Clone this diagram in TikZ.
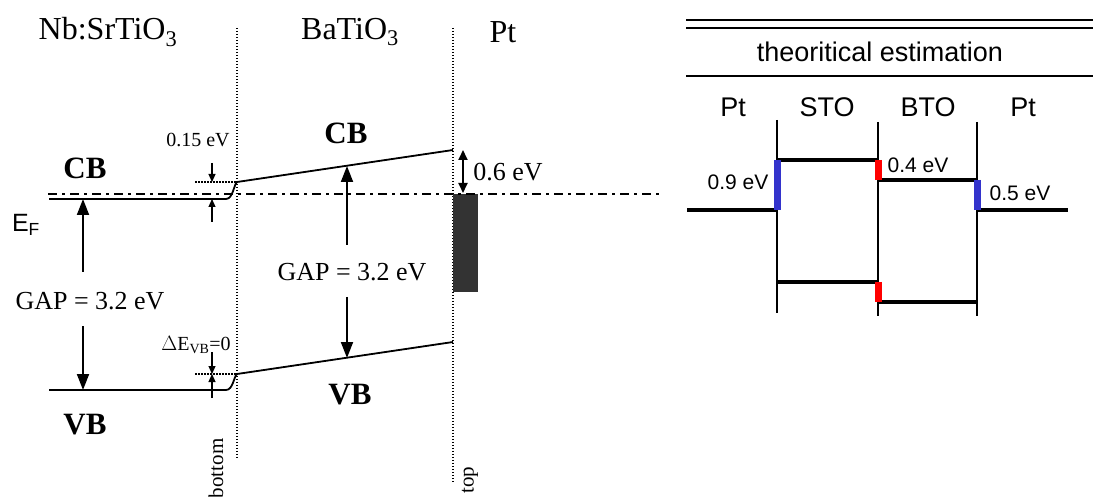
\documentclass[tikz,border=0pt]{standalone}
\usepackage{fontspec}
\setmainfont{Liberation Serif}
\setsansfont{Liberation Sans}
\usetikzlibrary{arrows.meta}
\definecolor{ptgray}{HTML}{333333}
\definecolor{bblue}{HTML}{3333CC}
\definecolor{bred}{HTML}{FF0000}
\begin{document}
\begin{tikzpicture}[x=1pt,y=-1pt,
  band/.style={line width=1.8pt},
  fermi/.style={line width=1.8pt,dash pattern=on 9pt off 5pt on 3pt off 5pt},
  iface/.style={line width=1.4pt,dash pattern=on 1.4pt off 1.6pt},
  guide/.style={line width=1.2pt,dash pattern=on 1.5pt off 1.5pt},
  bigarr/.style={line width=1.8pt,-{Triangle[length=16pt,width=12pt]}},
  smallarr/.style={line width=1.2pt,-{Triangle[length=8pt,width=7pt]}},
  dblarr/.style={line width=1.8pt,{Triangle[length=10pt,width=9pt]}-{Triangle[length=10pt,width=9pt]}},
  ttl/.style={font=\fontsize{32}{36}\selectfont},
  bandlbl/.style={font=\fontsize{31}{35}\selectfont\bfseries},
  gaplbl/.style={font=\fontsize{26}{30}\selectfont},
  smalllbl/.style={font=\fontsize{20}{23}\selectfont},
  sidelbl/.style={font=\fontsize{21}{24}\selectfont},
  vline/.style={line width=1.3pt},
  level/.style={line width=4.5pt},
  bar/.style={line width=7pt},
  sanslbl/.style={font=\sffamily\fontsize{27}{31}\selectfont},
  sanssmall/.style={font=\sffamily\fontsize{21}{24}\selectfont},
  rule/.style={line width=1.3pt}
]
\useasboundingbox (0,0) rectangle (1093,497);

% ---------------- left panel ----------------
\node[ttl] (tnb) at (108,32) {Nb:SrTiO\textsubscript{3}};
\node[ttl] (tbt) at (350,32) {BaTiO\textsubscript{3}};
\node[ttl] (tpt) at (503,32) {Pt};

\coordinate (ifbT) at (237,28);  \coordinate (ifbB) at (237,458);
\coordinate (iftT) at (453,28);  \coordinate (iftB) at (453,483);
\draw[iface] (ifbT) -- (ifbB);
\draw[iface] (iftT) -- (iftB);

% Pt metal
\fill[ptgray] (453,194) rectangle (478,292);

% Fermi level
\coordinate (efL) at (48,194); \coordinate (efR) at (662,194);
\draw[fermi] (efL) -- (efR);

% conduction band
\coordinate (cbL) at (49,199); \coordinate (cbK) at (226,199);
\coordinate (cbI) at (237,182); \coordinate (cbT) at (453,150);
\draw[band] (cbL) -- (cbK) .. controls (233,199) and (234,184) .. (cbI) -- (cbT);

% valence band
\coordinate (vbL) at (49,390); \coordinate (vbK) at (226,390);
\coordinate (vbI) at (237,374); \coordinate (vbT) at (453,342);
\draw[band] (vbL) -- (vbK) .. controls (233,390) and (234,376) .. (vbI) -- (vbT);

% offset guides
\coordinate (gc) at (195,182); \coordinate (gv) at (195,374);
\draw[guide] (gc) -- (cbI);
\draw[guide] (gv) -- (vbI);

% small offset arrows
\coordinate (a1s) at (212,163); \coordinate (a1e) at (212,182);
\coordinate (a2s) at (212,222); \coordinate (a2e) at (212,199);
\coordinate (a3s) at (212,352); \coordinate (a3e) at (212,374);
\coordinate (a4s) at (212,398); \coordinate (a4e) at (212,374);
\draw[smallarr] (a1s) -- (a1e);
\draw[smallarr] (a2s) -- (a2e);
\draw[smallarr] (a3s) -- (a3e);
\draw[smallarr] (a4s) -- (a4e);

% gap arrows
\coordinate (g1s) at (83,272); \coordinate (g1e) at (83,199);
\coordinate (g2s) at (83,326); \coordinate (g2e) at (83,390);
\coordinate (g3s) at (347,245); \coordinate (g3e) at (347,166);
\coordinate (g4s) at (347,297); \coordinate (g4e) at (347,358);
\draw[bigarr] (g1s) -- (g1e);
\draw[bigarr] (g2s) -- (g2e);
\draw[bigarr] (g3s) -- (g3e);
\draw[bigarr] (g4s) -- (g4e);

% barrier arrow
\coordinate (b1) at (463,150); \coordinate (b2) at (463,193);
\draw[dblarr] (b1) -- (b2);

% labels
\node[bandlbl] (cb1) at (85,168) {CB};
\node[bandlbl] (cb2) at (346,133) {CB};
\node[bandlbl] (vb1) at (85,425) {VB};
\node[bandlbl] (vb2) at (350,395) {VB};
\node[gaplbl] (gap1) at (90,301) {GAP = 3.2 eV};
\node[gaplbl] (gap2) at (352,272) {GAP = 3.2 eV};
\node[smalllbl] (l015) at (198,140) {0.15 eV};
\node[smalllbl] (ldvb) at (196,345) {$\Delta$E\textsubscript{VB}=0};
\node[gaplbl] (l06) at (508,172) {0.6 eV};
\node[font=\sffamily\fontsize{25}{28}\selectfont] (ef) at (26,225) {E\textsubscript{F}};
\node[sidelbl,rotate=90,anchor=east] (lbot) at (216,435) {bottom};
\node[sidelbl,rotate=90,anchor=east] (ltop) at (470,463) {top};

% ---------------- right panel ----------------
\coordinate (r1L) at (686,20); \coordinate (r1R) at (1093,20);
\coordinate (r2L) at (686,28); \coordinate (r2R) at (1093,28);
\coordinate (r3L) at (686,76); \coordinate (r3R) at (1093,76);
\draw[rule] (r1L) -- (r1R);
\draw[rule] (r2L) -- (r2R);
\draw[rule] (r3L) -- (r3R);
\node[sanslbl] (theo) at (880,52) {theoritical estimation};

\node[sanslbl] (hpt1) at (733,107) {Pt};
\node[sanslbl] (hsto) at (827,107) {STO};
\node[sanslbl] (hbto) at (928,107) {BTO};
\node[sanslbl] (hpt2) at (1023,107) {Pt};

\coordinate (v1T) at (777,120); \coordinate (v1B) at (777,313);
\coordinate (v2T) at (878,122); \coordinate (v2B) at (878,316);
\coordinate (v3T) at (977,122); \coordinate (v3B) at (977,316);
\draw[vline] (v1T) -- (v1B);
\draw[vline] (v2T) -- (v2B);
\draw[vline] (v3T) -- (v3B);

\coordinate (ptLa) at (687,210); \coordinate (ptLb) at (777,210);
\coordinate (stoCa) at (777,160); \coordinate (stoCb) at (878,160);
\coordinate (btoCa) at (878,180); \coordinate (btoCb) at (977,180);
\coordinate (ptRa) at (977,210); \coordinate (ptRb) at (1068,210);
\coordinate (stoVa) at (777,282); \coordinate (stoVb) at (878,282);
\coordinate (btoVa) at (878,302); \coordinate (btoVb) at (977,302);
\draw[level] (ptLa) -- (ptLb);
\draw[level] (stoCa) -- (stoCb);
\draw[level] (btoCa) -- (btoCb);
\draw[level] (ptRa) -- (ptRb);
\draw[level] (stoVa) -- (stoVb);
\draw[level] (btoVa) -- (btoVb);

\draw[bar,bblue] (stoCa) -- (ptLb);
\draw[bar,bred] (stoCb) -- (btoCa);
\draw[bar,bblue] (btoCb) -- (ptRa);
\draw[bar,bred] (stoVb) -- (btoVa);

\node[sanssmall] (e09) at (738,182) {0.9 eV};
\node[sanssmall] (e04) at (918,165) {0.4 eV};
\node[sanssmall] (e05) at (1020,193) {0.5 eV};
\end{tikzpicture}
\end{document}
